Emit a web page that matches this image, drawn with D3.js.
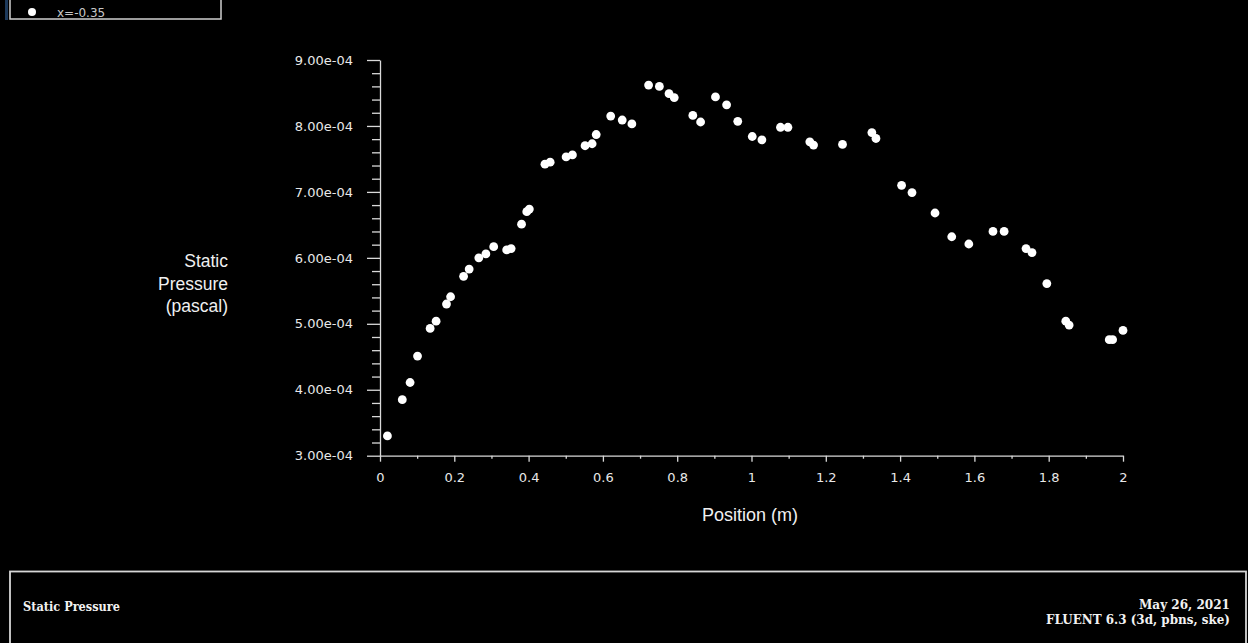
<!DOCTYPE html>
<html>
<head>
<meta charset="utf-8">
<script src="https://cdn.jsdelivr.net/npm/d3@7"></script>
<style>
  html, body { margin: 0; padding: 0; background: #000; overflow: hidden; }
  svg { display: block; }
</style>
</head>
<body>
<script>
// Static pressure along the line x = -0.35
const positions = [
  0.020, 0.060, 0.081, 0.101, 0.135, 0.151, 0.179, 0.190, 0.225, 0.240,
  0.266, 0.285, 0.306, 0.341, 0.353, 0.381, 0.395, 0.402, 0.444, 0.458,
  0.501, 0.518, 0.552, 0.571, 0.582, 0.621, 0.652, 0.678, 0.723, 0.752,
  0.778, 0.792, 0.842, 0.863, 0.903, 0.933, 0.963, 1.002, 1.028, 1.078,
  1.098, 1.157, 1.167, 1.245, 1.324, 1.335, 1.404, 1.432, 1.494, 1.539,
  1.585, 1.650, 1.680, 1.739, 1.755, 1.795, 1.846, 1.855, 1.963, 1.972,
  2.000
];
const pressures = [
  3.30e-4, 3.85e-4, 4.11e-4, 4.51e-4, 4.93e-4, 5.04e-4, 5.30e-4, 5.41e-4, 5.72e-4, 5.83e-4,
  6.00e-4, 6.06e-4, 6.17e-4, 6.12e-4, 6.14e-4, 6.51e-4, 6.70e-4, 6.74e-4, 7.42e-4, 7.45e-4,
  7.53e-4, 7.56e-4, 7.70e-4, 7.73e-4, 7.87e-4, 8.15e-4, 8.09e-4, 8.03e-4, 8.62e-4, 8.60e-4,
  8.49e-4, 8.43e-4, 8.16e-4, 8.06e-4, 8.44e-4, 8.32e-4, 8.07e-4, 7.84e-4, 7.79e-4, 7.98e-4,
  7.98e-4, 7.76e-4, 7.71e-4, 7.72e-4, 7.90e-4, 7.81e-4, 7.10e-4, 6.99e-4, 6.68e-4, 6.32e-4,
  6.21e-4, 6.40e-4, 6.40e-4, 6.14e-4, 6.08e-4, 5.61e-4, 5.04e-4, 4.98e-4, 4.76e-4, 4.76e-4,
  4.90e-4
];
const xTicks = [0, 0.2, 0.4, 0.6, 0.8, 1, 1.2, 1.4, 1.6, 1.8, 2];
const xMinorTicks = [0.1, 0.3, 0.5, 0.7, 0.9, 1.1, 1.3, 1.5, 1.7, 1.9];
const yTicks = [3e-4, 4e-4, 5e-4, 6e-4, 7e-4, 8e-4, 9e-4];
const yMinorTicks = d3.range(3, 9).flatMap(m => [0.2, 0.4, 0.6, 0.8].map(f => (m + f) * 1e-4));
const legendLabel = "x=-0.35";
const xTitle = "Position (m)";
const yTitleLines = ["Static", "Pressure", "(pascal)"];
const footerLeft = "Static Pressure";
const footerRight = ["May 26, 2021", "FLUENT 6.3 (3d, pbns, ske)"];

const W = 1248, H = 643;
const axisColor = "#d9d9d9";
const svg = d3.select("body").append("svg").attr("width", W).attr("height", H);
svg.append("rect").attr("width", W).attr("height", H).attr("fill", "#000");

const x = d3.scaleLinear().domain([0, 2]).range([380, 1123]);
const y = d3.scaleLinear().domain([3e-4, 9e-4]).range([455.7, 60]);
const fmtY = v => v.toExponential(2).replace(/e([+-])(\d)$/, "e$10$2");

// y axis: major ticks with labels, minor ticks without
svg.append("g").attr("transform", `translate(${x(0)},0)`)
  .call(d3.axisLeft(y).tickValues(yTicks).tickFormat(fmtY)
    .tickSizeInner(13).tickSizeOuter(0).tickPadding(14));
svg.append("g").attr("transform", `translate(${x(0)},0)`)
  .call(d3.axisLeft(y).tickValues(yMinorTicks).tickFormat("")
    .tickSizeInner(8).tickSizeOuter(0))
  .call(g => g.select(".domain").remove());

// x axis
svg.append("g").attr("transform", `translate(0,${y(3e-4)})`)
  .call(d3.axisBottom(x).tickValues(xTicks).tickFormat(d3.format("~g"))
    .tickSizeInner(6).tickSizeOuter(0).tickPadding(11));
svg.append("g").attr("transform", `translate(0,${y(3e-4)})`)
  .call(d3.axisBottom(x).tickValues(xMinorTicks).tickFormat("")
    .tickSizeInner(3).tickSizeOuter(0))
  .call(g => g.select(".domain").remove());

svg.selectAll(".domain, .tick line").attr("stroke", axisColor).attr("stroke-width", 1.3);
svg.selectAll(".tick text").attr("fill", "#e8e8e8")
  .style("font-family", "'DejaVu Sans', sans-serif").style("font-size", "13px");

// data points
const pts = positions.map((p, i) => ({ p, v: pressures[i] }));
svg.append("g").selectAll("circle").data(pts).join("circle")
  .attr("cx", d => x(d.p)).attr("cy", d => y(d.v)).attr("r", 4.4)
  .attr("fill", "#fff");

// axis titles
svg.append("text").attr("x", 750).attr("y", 521).attr("text-anchor", "middle")
  .attr("fill", "#f0f0f0").style("font-family", "'Liberation Sans', Arial, sans-serif")
  .style("font-size", "18px").text(xTitle);
svg.append("g").selectAll("text").data(yTitleLines).join("text")
  .attr("x", 228).attr("y", (d, i) => 267 + i * 22.5).attr("text-anchor", "end")
  .attr("fill", "#f0f0f0").style("font-family", "'Liberation Sans', Arial, sans-serif")
  .style("font-size", "17.5px").text(d => d);

// legend box (partly above the window)
svg.append("rect").attr("x", 10).attr("y", -20).attr("width", 211).attr("height", 39)
  .attr("fill", "none").attr("stroke", "#cfcfcf").attr("stroke-width", 1.5);
svg.append("rect").attr("x", 5).attr("y", 0).attr("width", 3).attr("height", 20).attr("fill", "#1d3a5c");
svg.append("circle").attr("cx", 32).attr("cy", 12).attr("r", 4).attr("fill", "#fff");
svg.append("text").attr("x", 57).attr("y", 16.5).attr("fill", "#c8c8c8")
  .style("font-family", "'DejaVu Sans', sans-serif").style("font-size", "12px").text(legendLabel);

// footer panel
svg.append("rect").attr("x", 10).attr("y", 571.5).attr("width", 1236).attr("height", 90)
  .attr("fill", "none").attr("stroke", "#d6d6d6").attr("stroke-width", 1.8);
const serif = "'DejaVu Serif', 'Liberation Serif', serif";
const footerWidths = [91, 184];
svg.append("text").attr("x", 23).attr("y", 610.5).attr("fill", "#f2f2f2")
  .attr("textLength", 97).attr("lengthAdjust", "spacingAndGlyphs")
  .style("font-family", serif).style("font-size", "12px").style("font-weight", "600")
  .text(footerLeft);
svg.append("g").selectAll("text").data(footerRight).join("text")
  .attr("x", 1230).attr("y", (d, i) => 609 + i * 15).attr("text-anchor", "end")
  .attr("textLength", (d, i) => footerWidths[i]).attr("lengthAdjust", "spacingAndGlyphs")
  .attr("fill", "#f2f2f2").style("font-family", serif).style("font-size", "12px")
  .style("font-weight", "600").text(d => d);
</script>
</body>
</html>
